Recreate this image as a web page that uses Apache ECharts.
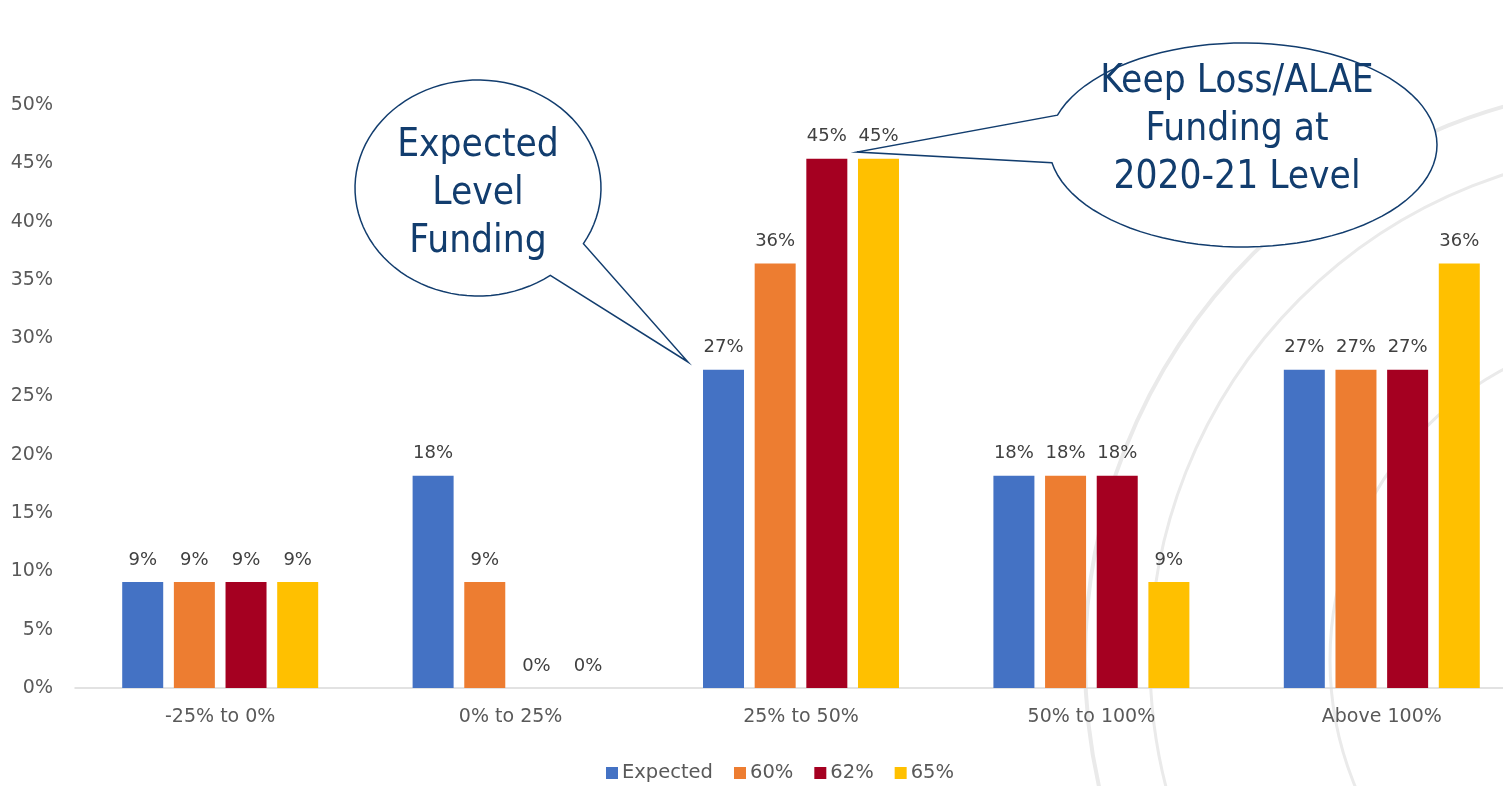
<!DOCTYPE html>
<html>
<head>
<meta charset="utf-8">
<script src="https://cdn.jsdelivr.net/npm/echarts@6/dist/echarts.min.js"></script>
<style>
  html, body { margin: 0; padding: 0; background: #fff; overflow: hidden; }
  #main { width: 1527px; height: 786px; }
</style>
</head>
<body>
<div id="main"></div>
<script>
// data (share of outcomes, %)
var categories = ['-25% to 0%', '0% to 25%', '25% to 50%', '50% to 100%', 'Above 100%'];
var seriesNames = ['Expected', '60%', '62%', '65%'];
var expectedVals = [9.1, 18.2, 27.3, 18.2, 27.3];
var pct60Vals = [9.1, 9.1, 36.4, 18.2, 27.3];
var pct62Vals = [9.1, 0, 45.4, 18.2, 27.3];
var pct65Vals = [9.1, 0, 45.4, 9.1, 36.4];
var colors = ['#4472C4', '#ED7D31', '#A50021', '#FFC000'];

var font = 'DejaVu Sans';
var navy = '#123D6E';

// speech bubble outline: ellipse with a tail going out to the tip
function bubble(cx, cy, rx, ry, a1, a2, tip) {
  var pts = [];
  var start = a2 * Math.PI / 180, end = (a1 + 360) * Math.PI / 180;
  var n = 90;
  for (var i = 0; i <= n; i++) {
    var t = start + (end - start) * i / n;
    pts.push([cx + rx * Math.cos(t), cy + ry * Math.sin(t)]);
  }
  pts.push(tip);
  return {
    type: 'polygon',
    z: 100,
    shape: { points: pts },
    style: { fill: '#fff', stroke: navy, lineWidth: 1.5 }
  };
}

function bubbleText(x, y, txt) {
  return {
    type: 'text',
    z: 101,
    x: x, y: y,
    style: {
      text: txt,
      fill: navy,
      font: '38.5px "DejaVu Sans Condensed", "DejaVu Sans"',
      align: 'center',
      verticalAlign: 'middle',
      lineHeight: 48
    }
  };
}

// faint seal in the background
function sealArc(r, w) {
  return {
    type: 'circle', z: -10, silent: true,
    shape: { cx: 1660, cy: 660, r: r },
    style: { fill: 'none', stroke: '#EAEAEA', lineWidth: w }
  };
}

function makeSeries(name, vals, idx) {
  return {
    name: name,
    type: 'bar',
    data: vals,
    barWidth: 41,
    barGap: '26%',
    itemStyle: { color: colors[idx] },
    label: {
      show: true,
      position: 'top',
      distance: 13,
      color: '#404040',
      fontFamily: font,
      fontSize: 18,
      formatter: function (p) { return Math.round(p.value) + '%'; }
    }
  };
}

var chart = echarts.init(document.getElementById('main'));
chart.setOption({
  animation: false,
  backgroundColor: '#fff',
  grid: { left: 75, right: 0, top: 105, bottom: 98, containLabel: false },
  legend: {
    top: 758,
    left: 601,
    itemWidth: 12,
    itemHeight: 12,
    itemGap: 21,
    icon: 'rect',
    textStyle: { color: '#595959', fontFamily: font, fontSize: 19.5, padding: [0, 0, 0, -1] },
    data: seriesNames
  },
  xAxis: {
    type: 'category',
    data: categories,
    axisTick: { show: false },
    axisLine: { lineStyle: { color: '#D9D9D9', width: 1.5 } },
    axisLabel: { color: '#595959', fontFamily: font, fontSize: 19, margin: 20 }
  },
  yAxis: {
    type: 'value',
    min: 0,
    max: 50,
    interval: 5,
    axisLine: { show: false },
    axisTick: { show: false },
    splitLine: { show: false },
    axisLabel: { color: '#595959', fontFamily: font, fontSize: 19, margin: 22, formatter: '{value}%' }
  },
  series: [
    makeSeries(seriesNames[0], expectedVals, 0),
    makeSeries(seriesNames[1], pct60Vals, 1),
    makeSeries(seriesNames[2], pct62Vals, 2),
    makeSeries(seriesNames[3], pct65Vals, 3)
  ],
  graphic: [
    sealArc(575, 4),
    sealArc(510, 3),
    sealArc(330, 3),
    bubble(478, 188, 123, 108, 31, 54, [688, 362]),
    bubbleText(478, 194, 'Expected\nLevel\nFunding'),
    bubble(1243, 145, 194, 102, 170, 197, [857, 152]),
    bubbleText(1237, 130, 'Keep Loss/ALAE\nFunding at\n2020-21 Level')
  ]
});
</script>
</body>
</html>
